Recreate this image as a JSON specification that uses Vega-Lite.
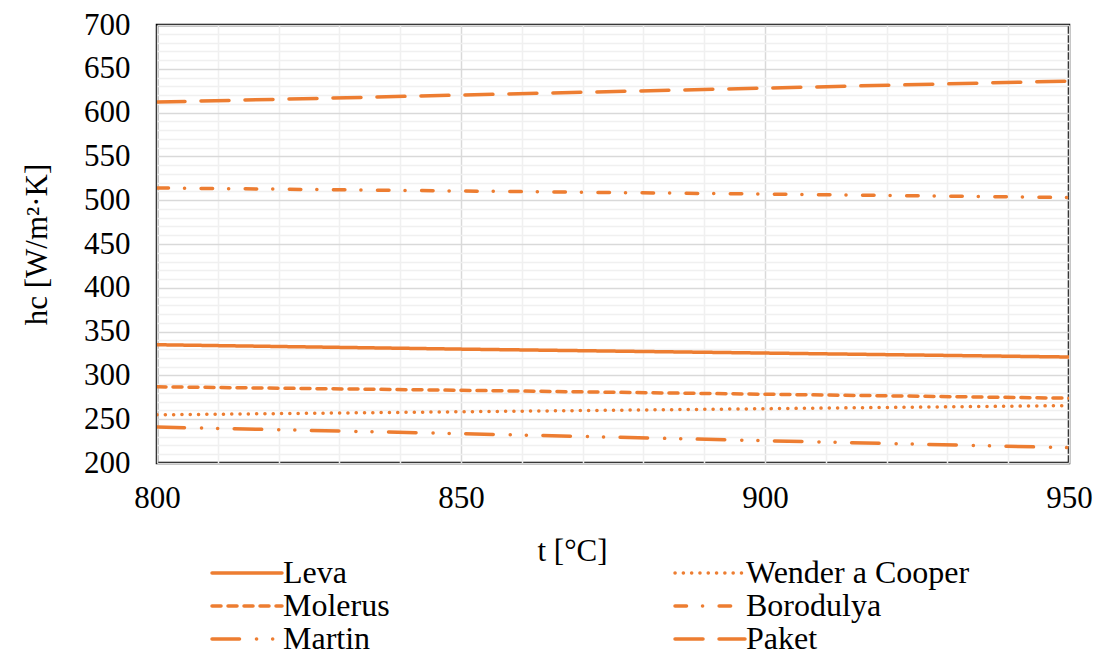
{
  "$schema": "https://vega.github.io/schema/vega-lite/v6.json",
  "width": 912,
  "height": 438,
  "padding": {"left": 157, "top": 25, "right": 27, "bottom": 192},
  "autosize": {"type": "none"},
  "background": "white",
  "config": {
    "font": "Liberation Serif",
    "view": {"stroke": "black", "strokeWidth": 2.5},
    "axis": {
      "labelFont": "Liberation Serif",
      "titleFont": "Liberation Serif",
      "labelFontSize": 31,
      "titleFontSize": 31,
      "labelColor": "black",
      "titleColor": "black",
      "titleFontWeight": "normal",
      "domain": false,
      "ticks": false,
      "tickSize": 0
    }
  },
  "data": {
    "values": [
      {"t": 800, "h": 335, "model": "Leva"},
      {"t": 850, "h": 330, "model": "Leva"},
      {"t": 900, "h": 325.5, "model": "Leva"},
      {"t": 950, "h": 321, "model": "Leva"},
      {"t": 800, "h": 255, "model": "Wender a Cooper"},
      {"t": 850, "h": 258.5, "model": "Wender a Cooper"},
      {"t": 900, "h": 262, "model": "Wender a Cooper"},
      {"t": 950, "h": 265.5, "model": "Wender a Cooper"},
      {"t": 800, "h": 287, "model": "Molerus"},
      {"t": 850, "h": 283, "model": "Molerus"},
      {"t": 900, "h": 278.5, "model": "Molerus"},
      {"t": 950, "h": 274, "model": "Molerus"},
      {"t": 800, "h": 514, "model": "Borodulya"},
      {"t": 850, "h": 510.5, "model": "Borodulya"},
      {"t": 900, "h": 507, "model": "Borodulya"},
      {"t": 950, "h": 503, "model": "Borodulya"},
      {"t": 800, "h": 241, "model": "Martin"},
      {"t": 850, "h": 233.5, "model": "Martin"},
      {"t": 900, "h": 225.5, "model": "Martin"},
      {"t": 950, "h": 217.5, "model": "Martin"},
      {"t": 800, "h": 612, "model": "Paket"},
      {"t": 850, "h": 620, "model": "Paket"},
      {"t": 900, "h": 628, "model": "Paket"},
      {"t": 950, "h": 636, "model": "Paket"}
    ]
  },
  "mark": {"type": "line", "strokeWidth": 3.5, "strokeCap": "round", "color": "#ED7D31", "clip": true},
  "encoding": {
    "x": {
      "field": "t",
      "type": "quantitative",
      "scale": {"domain": [800, 950], "nice": false, "zero": false},
      "axis": {
        "title": "t [°C]",
        "values": [800, 810, 820, 830, 840, 850, 860, 870, 880, 890, 900, 910, 920, 930, 940, 950],
        "labelExpr": "datum.value % 50 === 0 ? datum.label : ''",
        "labelPadding": 20,
        "labelFlush": false,
        "labelOverlap": false,
        "gridWidth": 1.5,
        "gridColor": {"condition": {"test": "datum.value % 50 === 0", "value": "#d9d9d9"}, "value": "#f0f0f0"},
        "titleX": 415,
        "titleY": 97,
        "titleBaseline": "alphabetic",
        "titleAnchor": "middle"
      }
    },
    "y": {
      "field": "h",
      "type": "quantitative",
      "scale": {"domain": [200, 700], "nice": false, "zero": false},
      "axis": {
        "title": "hc [W/m²·K]",
        "values": [200, 210, 220, 230, 240, 250, 260, 270, 280, 290, 300, 310, 320, 330, 340, 350, 360, 370, 380, 390, 400, 410, 420, 430, 440, 450, 460, 470, 480, 490, 500, 510, 520, 530, 540, 550, 560, 570, 580, 590, 600, 610, 620, 630, 640, 650, 660, 670, 680, 690, 700],
        "labelExpr": "datum.value % 50 === 0 ? datum.label : ''",
        "labelPadding": 27,
        "labelOverlap": false,
        "labelFlush": false,
        "gridWidth": 1.5,
        "gridColor": {"condition": {"test": "datum.value % 50 === 0", "value": "#d9d9d9"}, "value": "#f0f0f0"},
        "titlePadding": 30
      }
    },
    "strokeDash": {
      "field": "model",
      "type": "nominal",
      "scale": {
        "domain": ["Leva", "Molerus", "Martin", "Wender a Cooper", "Borodulya", "Paket"],
        "range": [[1, 0], [9, 7], [27.5, 17, 0.1, 16, 0.1, 16.5], [0.1, 8.2], [11.5, 16, 0.1, 16.5], [28, 16]]
      },
      "legend": {
        "title": null,
        "orient": "none",
        "legendX": 74,
        "legendY": 532,
        "columns": 2,
        "columnPadding": 278,
        "rowPadding": 1,
        "padding": 0,
        "symbolType": "M-3,0H3",
        "symbolSize": 544,
        "symbolStrokeWidth": 3.5,
        "symbolStrokeColor": "#ED7D31",
        "labelFont": "Liberation Serif",
        "labelFontSize": 32,
        "labelColor": "black",
        "labelOffset": 20,
        "labelLimit": 400,
        "encode": {"symbols": {"update": {"strokeCap": {"value": "round"}}}}
      }
    }
  }
}
